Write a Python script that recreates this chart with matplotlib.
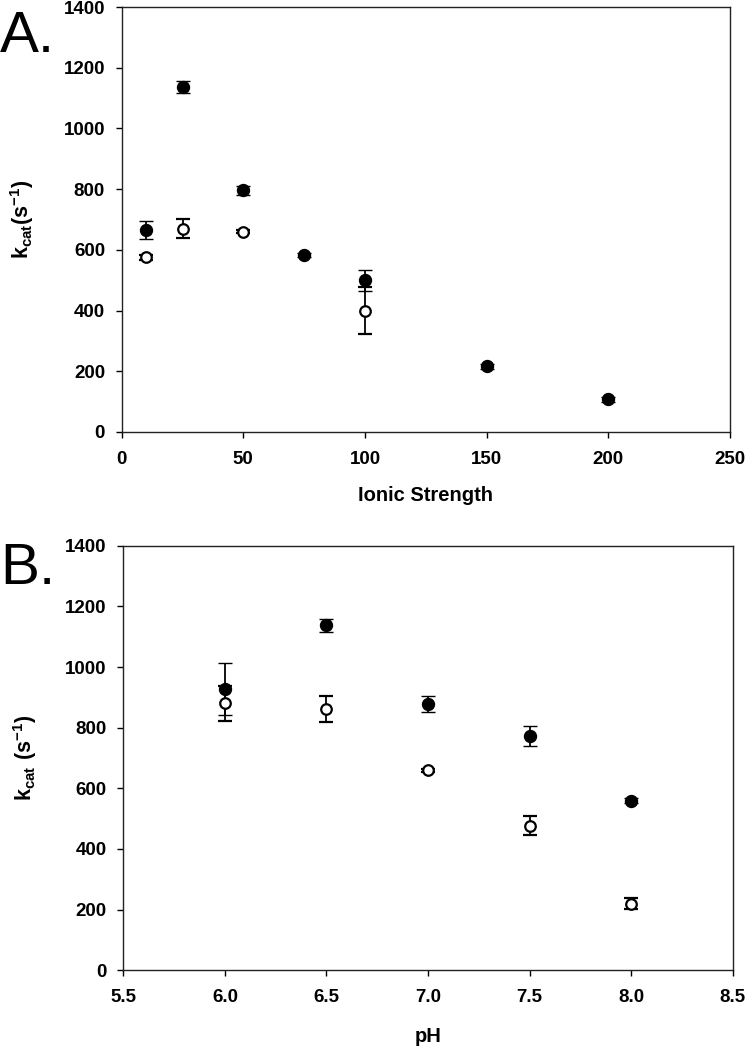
"""Two-panel kcat figure: A vs ionic strength, B vs pH (filled / open series)."""
import matplotlib
matplotlib.use("Agg")
import matplotlib.pyplot as plt

plt.rcParams["font.family"] = ["Liberation Sans", "DejaVu Sans"]
plt.rcParams["mathtext.default"] = "regular"

# ---------------- data ----------------
ionic        = [10, 25, 50, 75, 100, 150, 200]
a_filled     = [665, 1136, 796, 583, 500, 217, 108]
a_filled_err = [30, 20, 15, 8, 35, 8, 8]

ionic_open   = [10, 25, 50, 100]
a_open       = [575, 670, 660, 400]
a_open_err   = [8, 31, 6, 77]

ph           = [6.0, 6.5, 7.0, 7.5, 8.0]
b_filled     = [928, 1137, 878, 772, 559]
b_filled_err = [86, 21, 26, 33, 8]
b_open       = [880, 861, 660, 477, 220]
b_open_err   = [57, 43, 5, 31, 17]

A_XTICKS = [0, 50, 100, 150, 200, 250]
B_XTICKS = [5.5, 6.0, 6.5, 7.0, 7.5, 8.0, 8.5]
Y_TICKS  = [0, 200, 400, 600, 800, 1000, 1200, 1400]
# ------------------------------------------------------------

fig = plt.figure(figsize=(7.47, 10.50), dpi=100)
axA = fig.add_axes([0.1629, 0.5886, 0.8143, 0.4047])
axB = fig.add_axes([0.1651, 0.0759, 0.8158, 0.4044])

err_kw = dict(ls="none", ecolor="black", elinewidth=1.3, capsize=4.7, capthick=1.3)


def draw(ax, x_f, y_f, e_f, x_o, y_o, e_o):
    ax.errorbar(x_f, y_f, yerr=e_f, marker="o", ms=8.6, mfc="black", mec="black",
                mew=1.0, zorder=3, **err_kw)
    ax.errorbar(x_o, y_o, yerr=e_o, marker="o", ms=7.6, mfc="white", mec="black",
                mew=1.6, zorder=4, **err_kw)
    ax.set_ylim(0, 1400)
    ax.set_yticks(Y_TICKS)
    for sp in ax.spines.values():
        sp.set_linewidth(1.0)
        sp.set_color("#222222")
    ax.tick_params(direction="out", length=4.5, width=1.0, labelsize=13.5,
                   top=False, right=False)
    ax.tick_params(axis="x", pad=9)
    ax.tick_params(axis="y", pad=7.5)


draw(axA, ionic, a_filled, a_filled_err, ionic_open, a_open, a_open_err)
axA.set_xlim(0, 250)
axA.set_xticks(A_XTICKS)
axA.set_xticklabels([f"{t:g}" for t in A_XTICKS], fontweight="bold")
axA.set_yticklabels([f"{t:g}" for t in Y_TICKS], fontweight="bold")
axA.set_xlabel("Ionic Strength", fontsize=14.5, fontweight="bold", labelpad=13)
axA.set_ylabel(r"$k_{cat}(s^{-1})$", fontsize=15.5, fontweight="bold")
axA.yaxis.set_label_coords(-0.141, 0.5)

draw(axB, ph, b_filled, b_filled_err, ph, b_open, b_open_err)
axB.set_xlim(5.5, 8.5)
axB.set_xticks(B_XTICKS)
axB.set_xticklabels([f"{t:.1f}" for t in B_XTICKS], fontweight="bold")
axB.set_yticklabels([f"{t:g}" for t in Y_TICKS], fontweight="bold")
axB.set_xlabel("pH", fontsize=14.5, fontweight="bold", labelpad=15)
axB.set_ylabel(r"$k_{cat}\ (s^{-1})$", fontsize=15.5, fontweight="bold")
axB.yaxis.set_label_coords(-0.138, 0.5)

fig.text(0.0, 1 - 52 / 1050, "A.", fontsize=42, va="baseline", ha="left")
fig.text(0.0, 1 - 584 / 1050, "B.", fontsize=42, va="baseline", ha="left")

fig.savefig("out.png", dpi=100)
